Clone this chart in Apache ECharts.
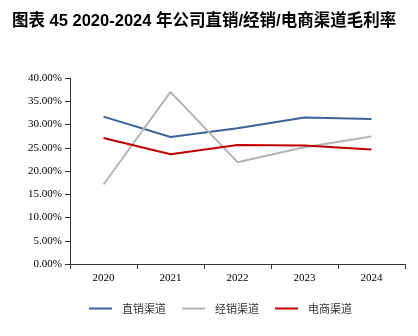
<!DOCTYPE html>
<html><head><meta charset="utf-8">
<script src="https://cdn.jsdelivr.net/npm/echarts@6/dist/echarts.min.js"></script>
<style>html,body{margin:0;padding:0;background:#fff}#c{width:418px;height:336px}</style>
</head><body><div id="c"></div>
<script>
var titleText = '图表 45 2020-2024 年公司直销/经销/电商渠道毛利率';
var categories = ['2020', '2021', '2022', '2023', '2024'];
var directSales = [31.7, 27.3, 29.2, 31.5, 31.2];
var distribution = [17.1, 37.0, 21.9, 25.1, 27.4];
var ecommerce = [27.1, 23.6, 25.6, 25.5, 24.6];
var seriesNames = ['直销渠道', '经销渠道', '电商渠道'];
var colors = ['#3B6299', '#B4B4B4', '#C00000'];

var chart = echarts.init(document.getElementById('c'));
chart.setOption({
  animation: false,
  title: {
    text: titleText, left: 7, top: 8,
    textStyle: {fontFamily: 'Liberation Sans, "Noto Sans CJK SC"', fontWeight: 'bold', fontSize: 16.5, color: '#000'}
  },
  legend: {
    top: 298, left: 84, itemGap: 16, itemWidth: 23, itemHeight: 2, icon: 'rect',
    textStyle: {fontFamily: '"Noto Sans CJK SC"', fontSize: 11, color: '#333', padding: [0, 0, 0, 5]},
    data: seriesNames
  },
  grid: {left: 70, right: 13, top: 78, bottom: 72},
  xAxis: {
    type: 'category', data: categories, boundaryGap: true,
    axisLine: {lineStyle: {color: '#333', width: 1}},
    axisTick: {show: true, length: 5, lineStyle: {color: '#333'}},
    axisLabel: {fontFamily: 'Liberation Serif', fontSize: 11, color: '#000', margin: 9}
  },
  yAxis: {
    type: 'value', min: 0, max: 40, interval: 5,
    axisLine: {show: true, lineStyle: {color: '#333', width: 1}},
    axisTick: {show: true, length: 5, lineStyle: {color: '#333'}},
    splitLine: {show: false},
    axisLabel: {fontFamily: 'Liberation Serif', fontSize: 11, color: '#000', margin: 8,
      formatter: function (v) { return v.toFixed(2) + '%'; }}
  },
  series: [
    {name: seriesNames[0], type: 'line', data: directSales, symbol: 'none', lineStyle: {width: 2, color: colors[0]}, itemStyle: {color: colors[0]}},
    {name: seriesNames[1], type: 'line', data: distribution, symbol: 'none', lineStyle: {width: 2, color: colors[1]}, itemStyle: {color: colors[1]}},
    {name: seriesNames[2], type: 'line', data: ecommerce, symbol: 'none', lineStyle: {width: 2, color: colors[2]}, itemStyle: {color: colors[2]}}
  ]
});
</script></body></html>
